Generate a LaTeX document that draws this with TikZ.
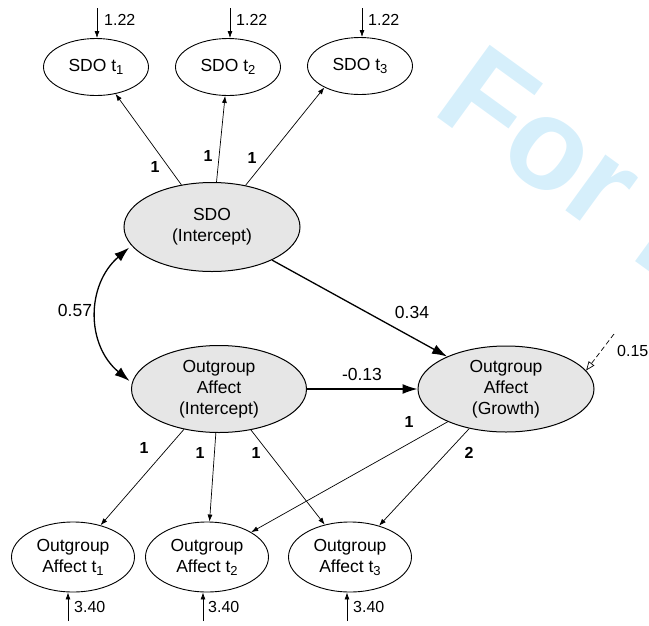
\documentclass[tikz,border=0pt]{standalone}
\usepackage{fontspec}
\setmainfont{Liberation Sans}
\usetikzlibrary{arrows.meta,shapes.geometric}
\definecolor{wmblue}{RGB}{214,239,251}
\definecolor{latfill}{RGB}{230,230,230}
\newcommand{\sbx}[1]{\raisebox{-0.32ex}{\fontsize{13}{13}\selectfont #1}}
\begin{document}
\begin{tikzpicture}[x=1pt,y=-1pt,
  latent/.style={ellipse, draw, line width=1pt, fill=latfill, inner sep=0pt, align=center,
    font=\fontsize{17.5}{21}\selectfont},
  observed/.style={ellipse, draw, line width=0.9pt, fill=white, inner sep=0pt, align=center,
    font=\fontsize{17.5}{21}\selectfont},
  loadarrow/.style={-{Latex[length=7pt,width=5pt]}, line width=0.7pt},
  patharrow/.style={-{Latex[length=15pt,width=10pt]}, line width=1.3pt},
  loadlbl/.style={font=\fontsize{16}{18}\selectfont\bfseries, inner sep=0pt},
  numlbl/.style={font=\fontsize{17.5}{21}\selectfont, inner sep=0pt},
  errlbl/.style={font=\fontsize{16}{18}\selectfont, inner sep=0pt, anchor=west}]
\useasboundingbox (0,0) rectangle (649,625);
\begin{scope}
  \clip (0,0) rectangle (649,625);
  \node[text=wmblue, font=\fontsize{130}{130}\selectfont\bfseries, anchor=base west, rotate=-36, inner sep=0pt]
    (wm) at (430,112) {For Peer Review};
\end{scope}

% nodes
\node[observed, minimum width=105pt, minimum height=57pt] (s1) at (96,67) {SDO t\sbx{1}};
\node[observed, minimum width=105pt, minimum height=57pt] (s2) at (228,67) {SDO t\sbx{2}};
\node[observed, minimum width=105pt, minimum height=57pt] (s3) at (360,66) {SDO t\sbx{3}};
\node[latent, minimum width=176pt, minimum height=89pt] (sdo) at (212,227) {SDO\\(Intercept)};
\node[latent, minimum width=175pt, minimum height=87pt] (oi) at (219,389) {Outgroup\\Affect\\(Intercept)};
\node[latent, minimum width=176pt, minimum height=86pt] (g) at (506,389) {Outgroup\\Affect\\(Growth)};
\node[observed, minimum width=123pt, minimum height=70pt] (o1) at (73,557) {Outgroup\\Affect t\sbx{1}};
\node[observed, minimum width=123pt, minimum height=70pt] (o2) at (207,557) {Outgroup\\Affect t\sbx{2}};
\node[observed, minimum width=123pt, minimum height=70pt] (o3) at (350,557) {Outgroup\\Affect t\sbx{3}};

% error terms top
\coordinate (e1) at (97,8);
\coordinate (e2) at (230,8);
\coordinate (e3) at (362,8);
\draw[loadarrow] (e1) -- (e1 |- s1.north);
\draw[loadarrow] (e2) -- (e2 |- s2.north);
\draw[loadarrow] (e3) -- (e3 |- s3.north);
\node[errlbl] (l1) at (104,20) {1.22};
\node[errlbl] (l2) at (236,20) {1.22};
\node[errlbl] (l3) at (368,20) {1.22};

% error terms bottom
\coordinate (f1) at (68,621);
\coordinate (f2) at (203,621);
\coordinate (f3) at (347,621);
\draw[loadarrow] (f1) -- (f1 |- o1.south);
\draw[loadarrow] (f2) -- (f2 |- o2.south);
\draw[loadarrow] (f3) -- (f3 |- o3.south);
\node[errlbl] (m1) at (74,607) {3.40};
\node[errlbl] (m2) at (208,607) {3.40};
\node[errlbl] (m3) at (353,607) {3.40};

% growth disturbance
\coordinate (eg) at (614,334);
\draw[dash pattern=on 5pt off 3pt, line width=0.7pt, -{Triangle[open, length=9pt, width=7pt]}] (eg) -- (g.13);
\node[errlbl] (dg) at (617,351) {0.15};

% SDO loadings
\draw[loadarrow] (sdo) -- (s1);
\draw[loadarrow] (sdo) -- (s2);
\draw[loadarrow] (sdo) -- (s3.211);
\node[loadlbl] (a1) at (155,167) {1};
\node[loadlbl] (a2) at (208,156) {1};
\node[loadlbl] (a3) at (252,158) {1};

% affect loadings
\draw[loadarrow] (oi) -- (o1);
\draw[loadarrow] (oi) -- (o2);
\draw[loadarrow] (oi) -- (o3);
\draw[loadarrow] (g) -- (o2);
\draw[loadarrow] (g) -- (o3);
\node[loadlbl] (b1) at (144,448) {1};
\node[loadlbl] (b2) at (200,453) {1};
\node[loadlbl] (b3) at (256,453) {1};
\node[loadlbl] (b4) at (409,422) {1};
\node[loadlbl] (b5) at (469,453) {2};

% structural paths
\draw[patharrow] (sdo) -- (g);
\node[numlbl] (p1) at (412,312) {0.34};
\draw[patharrow] (oi) -- (g);
\node[numlbl] (p2) at (362,374) {-0.13};

% covariance
\draw[{Latex[length=15pt,width=10pt]}-{Latex[length=15pt,width=10pt]}, line width=1.3pt, shorten <=3pt, shorten >=3pt]
  (sdo.193) .. controls (86,285) and (86,345) .. (oi.176);
\node[numlbl] (c1) at (75,310) {0.57};
\end{tikzpicture}
\end{document}
